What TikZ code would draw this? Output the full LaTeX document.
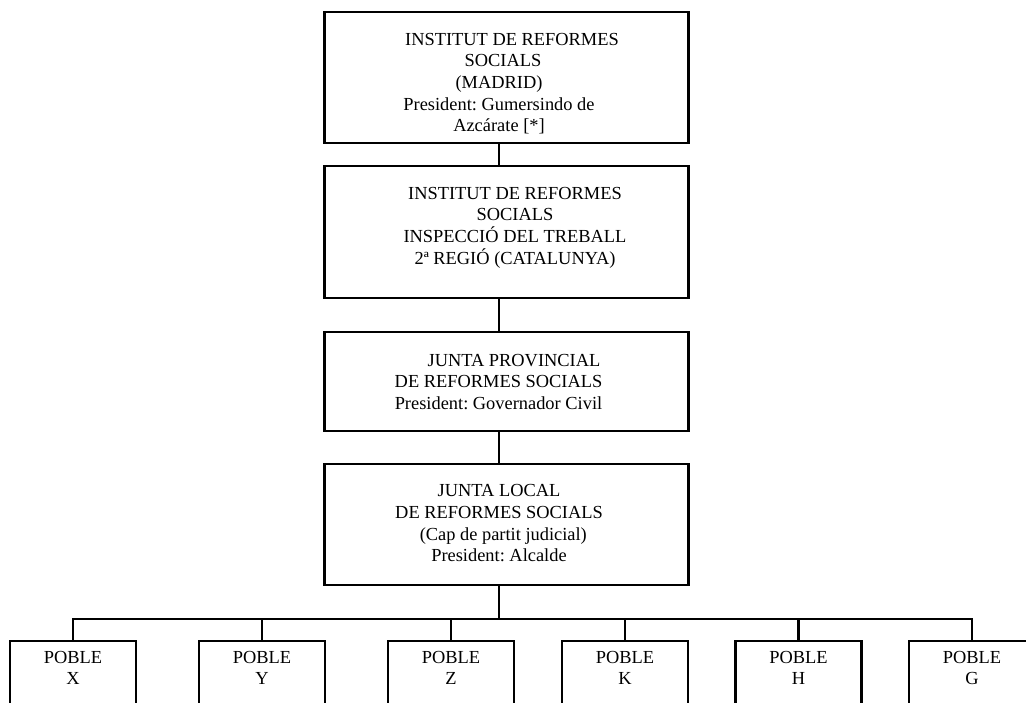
\documentclass[tikz,border=0pt]{standalone}
\usepackage{fontspec}
\setmainfont{Liberation Serif}
\begin{document}
\frenchspacing
\begin{tikzpicture}[x=1pt,y=-1pt,
  box/.style={draw=black, line width=2.3pt, rectangle, inner sep=0pt, minimum width=364pt, line join=miter},
  poble/.style={draw=black, line width=2.3pt, rectangle, inner sep=0pt, minimum width=126pt, minimum height=100pt},
  txt/.style={inner sep=0pt, anchor=north, align=center, font=\fontsize{18.4}{21.65}\selectfont},
  conn/.style={draw=black, line width=2.5pt, line cap=rect}]
\useasboundingbox (0,0) rectangle (1026,702);
\clip (0,0) rectangle (1026,702);
\fill[white] (0,0) rectangle (1026,702);
% main boxes
\node[box, minimum height=131pt] (b1) at (506.5,77.5) {};
\node[box, minimum height=132pt] (b2) at (506.5,232) {};
\node[box, minimum height=99pt]  (b3) at (506.5,381.5) {};
\node[box, minimum height=121pt] (b4) at (506.5,524.5) {};
% texts
\node[txt] (t1) at (499,32.8) {\hspace*{26pt}INSTITUT DE REFORMES\\\hspace*{8pt}SOCIALS\\(MADRID)\\President: Gumersindo de\\Azcárate [*]};
\node[txt] (t2) at (515,186.8) {INSTITUT DE REFORMES\\SOCIALS\\INSPECCIÓ DEL TREBALL\\2ª REGIÓ (CATALUNYA)};
\node[txt] (t3) at (498.5,353.8) {\hspace*{31pt}JUNTA PROVINCIAL\\DE REFORMES SOCIALS\\President: Governador Civil};
\node[txt] (t4) at (499,484.5) {JUNTA LOCAL\\DE REFORMES SOCIALS\\\hspace*{8.6pt}(Cap de partit judicial)\\President: Alcalde};
% bottom boxes
\node[poble] (pX) at (73,691) {};
\node[poble] (pY) at (262,691) {};
\node[poble] (pZ) at (451,691) {};
\node[poble] (pK) at (625,691) {};
\node[poble] (pH) at (798.5,691) {};
\node[poble] (pG) at (972,691) {};
\foreach \p/\l in {pX/X,pY/Y,pZ/Z,pK/K,pH/H,pG/G}{
  \node[txt] (t\p) at ([yshift=-10.9pt]\p.north) {POBLE\\\l};
}
% connectors
\coordinate (spine) at (499,0);
\coordinate (bus) at (499,619);
\draw[conn] (b1.south -| spine) -- (b2.north -| spine);
\draw[conn] (b2.south -| spine) -- (b3.north -| spine);
\draw[conn] (b3.south -| spine) -- (b4.north -| spine);
\draw[conn] (b4.south -| spine) -- (bus);
\draw[conn] (pX.north |- bus) -- (pG.north |- bus);
\foreach \p in {pX,pY,pZ,pK,pH,pG}{
  \draw[conn] (\p.north |- bus) -- (\p.north);
}
\end{tikzpicture}
\end{document}
